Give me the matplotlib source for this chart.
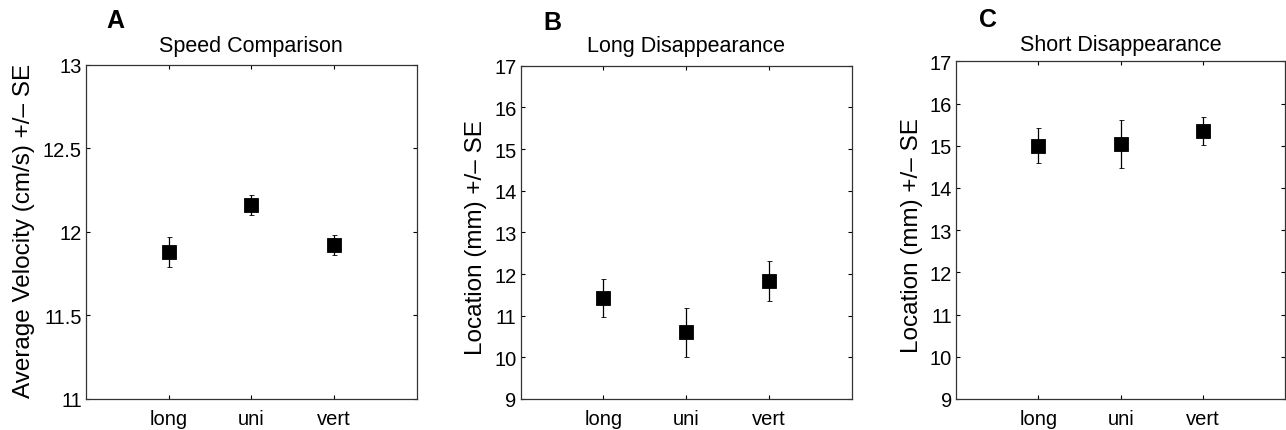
import matplotlib
matplotlib.use("Agg")
import matplotlib.pyplot as plt

plt.rcParams['font.family'] = ['Liberation Sans', 'DejaVu Sans']

conditions = ["long", "uni", "vert"]

speed_mean = [11.88, 12.16, 11.92]
speed_se = [0.09, 0.06, 0.06]

long_dis_mean = [11.42, 10.60, 11.84]
long_dis_se = [0.45, 0.58, 0.48]

short_dis_mean = [15.00, 15.04, 15.35]
short_dis_se = [0.42, 0.56, 0.33]

panel_letters = ["A", "B", "C"]
titles = ["Speed Comparison", "Long Disappearance", "Short Disappearance"]
ylabels = ["Average Velocity (cm/s) +/\u2013 SE",
           "Location (mm) +/\u2013 SE",
           "Location (mm) +/\u2013 SE"]
yticks_a = [11, 11.5, 12, 12.5, 13]
yticklabels_a = ["11", "11.5", "12", "12.5", "13"]
yticks_bc = [9, 10, 11, 12, 13, 14, 15, 16, 17]
yticklabels_bc = [str(v) for v in yticks_bc]

W, H = 1286, 431
fig = plt.figure(figsize=(W / 100, H / 100), dpi=100)

# axes boxes in pixels: left, right, top, bottom
boxes = [(86, 416.7, 65.7, 400), (520.7, 851.7, 66.7, 400), (956, 1285.3, 62.3, 400)]
letter_pos = [(115, 28.3), (552.7, 30), (988, 26.7)]
title_base = [51.7, 51.7, 50.7]
ylabel_pos = [(30, 231), (481.7, 238), (918, 236)]

data = [(speed_mean, speed_se, yticks_a, yticklabels_a, (11, 13)),
        (long_dis_mean, long_dis_se, yticks_bc, yticklabels_bc, (9, 17)),
        (short_dis_mean, short_dis_se, yticks_bc, yticklabels_bc, (9, 17))]

xpos = [1, 2, 3]
for i, (box, d) in enumerate(zip(boxes, data)):
    l, r, t, b = box
    ax = fig.add_axes([l / W, 1 - b / H, (r - l) / W, (b - t) / H])
    mean, se, yt, ytl, ylim = d
    ax.errorbar(xpos, mean, yerr=se, fmt='s', color='black', ecolor='black',
                markersize=9.5, markeredgewidth=0.6, elinewidth=0.9,
                capsize=1.8, capthick=0.9)
    ax.set_xlim(0, 4)
    ax.set_ylim(*ylim)
    ax.set_xticks(xpos)
    ax.set_xticklabels(conditions)
    ax.set_yticks(yt)
    ax.set_yticklabels(ytl)
    ax.tick_params(direction='in', length=3, width=0.8, top=True, right=True,
                   labelsize=14.5, colors='black')
    ax.tick_params(axis='y', pad=3)
    ax.tick_params(axis='x', pad=7)
    for sp in ax.spines.values():
        sp.set_color('#333333')
        sp.set_linewidth(0.9)
    ax.set_title(titles[i], fontsize=15.5, y=1.0, pad=(t - title_base[i]) * 0.72)
    ax.set_ylabel(ylabels[i], fontsize=17.5, va='baseline')
    ax.yaxis.set_label_coords(ylabel_pos[i][0] / W, 1 - ylabel_pos[i][1] / H,
                              transform=fig.transFigure)
    fig.text(letter_pos[i][0] / W, 1 - letter_pos[i][1] / H, panel_letters[i],
             fontsize=18, fontweight='bold', ha='center', va='baseline')

fig.savefig("out.png", dpi=100)
